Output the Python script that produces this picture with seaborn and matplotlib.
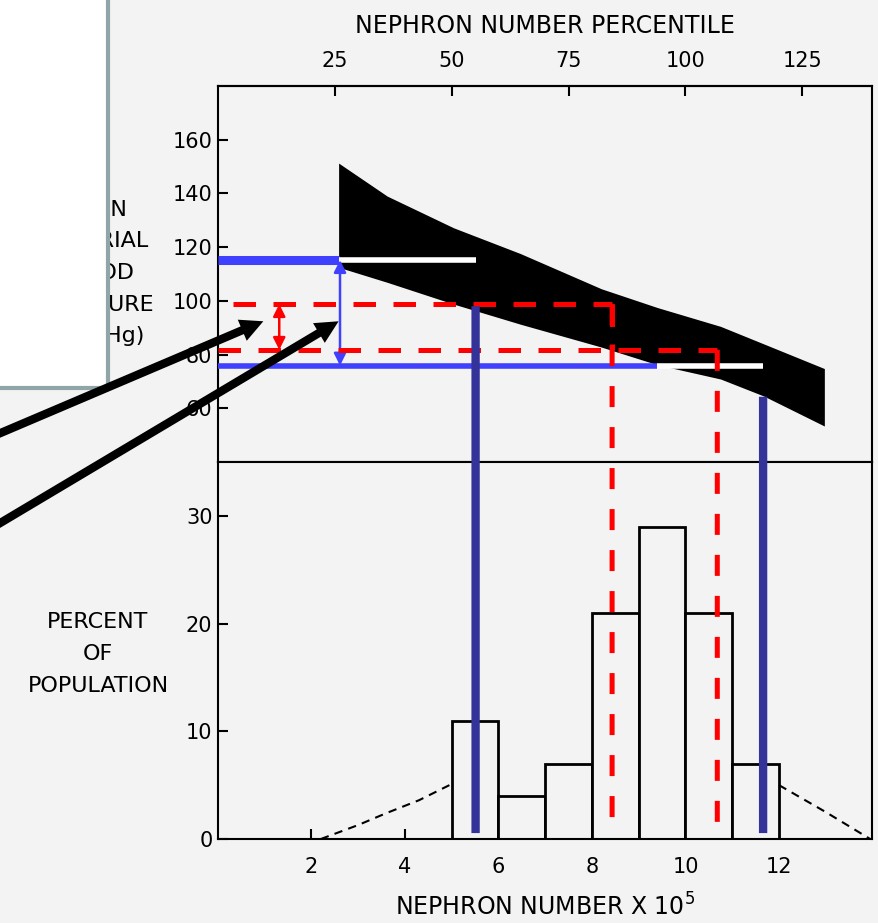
import matplotlib
matplotlib.use("Agg")
import matplotlib.pyplot as plt
import seaborn as sns
from matplotlib.patches import Rectangle, ConnectionPatch

# ---- data -------------------------------------------------------------
# Distribution of nephron number (x 10^5) in the population
bin_edges = [5, 6, 7, 8, 9, 10, 11, 12]
percent_population = [11, 4, 7, 21, 29, 21, 7]

# dashed extrapolated tails of the distribution
left_tail_x = [2.2, 3.0, 3.6, 4.3, 4.95]
left_tail_y = [0.0, 1.3, 2.4, 3.6, 5.0]
right_tail_x = [12.0, 13.0, 13.95]
right_tail_y = [5.0, 2.5, 0.0]

# mean arterial blood pressure band vs nephron number
band_x = [2.58, 3.62, 5.04, 6.47, 8.2, 9.4, 10.75, 11.67, 12.97]
band_upper = [151.3, 139.0, 127.2, 117.6, 104.5, 97.5, 90.5, 84.0, 74.8]
band_lower = [112.5, 106.9, 98.8, 91.3, 82.8, 76.2, 70.9, 64.6, 53.4]

# tick values
percentile_ticks = [25, 50, 75, 100, 125]
bp_ticks = [60, 80, 100, 120, 140, 160]
pct_ticks = [0, 10, 20, 30]
nephron_ticks = [2, 4, 6, 8, 10, 12]

# highlighted ranges: wide (blue) and narrow (red)
blue_bp = [115.2, 75.9]
blue_bp_enter = [2.58, 9.4]          # where each level meets the band
blue_nephron = [5.51, 11.66]
blue_nephron_top = [98.0, 64.3]
red_bp = [98.8, 81.75]
red_bp_start = [0.33, 0.0]
red_nephron = [8.43, 10.68]

# ---- style ------------------------------------------------------------
BG = "#f3f3f3"
BRIGHT_BLUE = "#4040ff"
NAVY = "#333399"
RED = "#ff0000"

sns.set_theme(style="ticks")
plt.rcParams["font.family"] = ["DejaVu Sans"]
plt.rcParams["text.color"] = "black"
plt.rcParams["axes.labelcolor"] = "black"
plt.rcParams["xtick.color"] = "black"
plt.rcParams["ytick.color"] = "black"
plt.rcParams["axes.linewidth"] = 1.5
plt.rcParams["xtick.major.width"] = 1.5
plt.rcParams["ytick.major.width"] = 1.5
plt.rcParams["xtick.major.size"] = 7
plt.rcParams["ytick.major.size"] = 7
plt.rcParams["xtick.direction"] = "in"
plt.rcParams["ytick.direction"] = "in"
plt.rcParams["axes.edgecolor"] = "black"

FS = 15      # tick labels
LFS = 17     # axis titles along x
SFS = 16     # stacked titles on the left
W, H = 879, 923
fig = plt.figure(figsize=(W / 100, H / 100), dpi=100, facecolor=BG)

x0, x1 = 218, 872.5
y_top, y_mid, y_bot = 86, 462, 839
ax_top = fig.add_axes([x0 / W, 1 - y_mid / H, (x1 - x0) / W, (y_mid - y_top) / H])
ax_bot = fig.add_axes([x0 / W, 1 - y_bot / H, (x1 - x0) / W, (y_bot - y_mid) / H])
for ax in (ax_top, ax_bot):
    ax.set_facecolor(BG)
    ax.set_xlim(0, 14)
    for s in ax.spines.values():
        s.set_visible(True)
        s.set_color("black")
        s.set_linewidth(1.5)

# ---- upper panel: pressure band ---------------------------------------
ax_top.set_ylim(40, 180)
ax_top.fill_between(band_x, band_lower, band_upper, color="black", lw=0, zorder=2)
ax_top.set_yticks(bp_ticks)
ax_top.set_yticklabels([str(v) for v in bp_ticks], fontsize=FS)
ax_top.tick_params(axis="y", pad=4, left=True)
ax_top.tick_params(axis="x", bottom=False, labelbottom=False)

sec = ax_top.secondary_xaxis("top", functions=(lambda x: x * 10, lambda p: p / 10))
sec.set_xticks(percentile_ticks)
sec.set_xticklabels([str(v) for v in percentile_ticks], fontsize=FS)
sec.tick_params(axis="x", direction="in", length=7, width=1.5, pad=11)
sec.spines["top"].set_linewidth(1.5)
sec.set_xlabel("NEPHRON NUMBER PERCENTILE", fontsize=LFS, labelpad=13)

# ---- lower panel: histogram -------------------------------------------
ax_bot.set_ylim(0, 35)
bin_centers = [(a + b) / 2 for a, b in zip(bin_edges[:-1], bin_edges[1:])]
sns.histplot(x=bin_centers, weights=percent_population, bins=bin_edges,
             ax=ax_bot, fill=True, color=BG, edgecolor="black", linewidth=2,
             alpha=1, zorder=2)
sns.lineplot(x=left_tail_x, y=left_tail_y, ax=ax_bot, color="black",
             lw=1.5, linestyle=(0, (4, 3)), zorder=2)
sns.lineplot(x=right_tail_x, y=right_tail_y, ax=ax_bot, color="black",
             lw=1.5, linestyle=(0, (4, 3)), zorder=2)
ax_bot.set_yticks(pct_ticks)
ax_bot.set_yticklabels([str(v) for v in pct_ticks], fontsize=FS)
ax_bot.set_xticks(nephron_ticks)
ax_bot.set_xticklabels([str(v) for v in nephron_ticks], fontsize=FS)
ax_bot.tick_params(axis="x", pad=13, bottom=True)
ax_bot.tick_params(axis="y", pad=4, left=True)
ax_bot.set_ylabel("")
ax_bot.set_xlabel("NEPHRON NUMBER X 10$^5$", fontsize=LFS, labelpad=12)

# ---- axis titles on the left ------------------------------------------
fig.text(154 / W, 1 - 273 / H, "MEAN\nARTERIAL\nBLOOD\nPRESSURE\n(mm Hg)",
         ha="right", va="center", multialignment="center", fontsize=SFS,
         linespacing=1.72, zorder=1)
fig.text(98 / W, 1 - 654 / H, "PERCENT\nOF\nPOPULATION", ha="center",
         va="center", multialignment="center", fontsize=SFS, linespacing=1.72)

# ---- highlighted pressure ranges --------------------------------------
# wide range (blue)
ax_top.plot([0, blue_bp_enter[0]], [blue_bp[0]] * 2, color=BRIGHT_BLUE, lw=6.5,
            solid_capstyle="butt", zorder=4)
ax_top.plot([blue_bp_enter[0], blue_nephron[0]], [blue_bp[0]] * 2, color="white",
            lw=4, solid_capstyle="butt", zorder=4)
ax_top.plot([0, blue_bp_enter[1]], [blue_bp[1]] * 2, color=BRIGHT_BLUE, lw=4,
            solid_capstyle="butt", zorder=4)
ax_top.plot([blue_bp_enter[1], blue_nephron[1]], [blue_bp[1]] * 2, color="white",
            lw=4, solid_capstyle="butt", zorder=4)
ax_top.annotate("", xy=(2.61, blue_bp[0]), xytext=(2.61, blue_bp[1]),
                arrowprops=dict(arrowstyle="<|-|>", color=BRIGHT_BLUE, lw=1.8,
                                mutation_scale=18, shrinkA=0, shrinkB=0),
                zorder=5)

# narrow range (red, dashed)
red_dash = (0, (4.5, 3.5))
ax_top.plot([red_bp_start[0], red_nephron[0]], [red_bp[0]] * 2, color=RED, lw=3.6,
            linestyle=red_dash, dash_capstyle="butt", zorder=5)
ax_top.plot([red_nephron[0], red_nephron[0]], [red_bp[0], red_bp[1]], color=RED,
            lw=3.6, linestyle=red_dash, dash_capstyle="butt", zorder=5)
ax_top.plot([red_bp_start[1], red_nephron[1]], [red_bp[1]] * 2, color=RED, lw=3.6,
            linestyle=red_dash, dash_capstyle="butt", zorder=5)
ax_top.annotate("", xy=(1.31, red_bp[0]), xytext=(1.31, red_bp[1]),
                arrowprops=dict(arrowstyle="<|-|>", color=RED, lw=1.8,
                                mutation_scale=18, shrinkA=0, shrinkB=0),
                zorder=6)

# verticals running from the band down into the histogram
for xv, ytop in zip(blue_nephron, blue_nephron_top):
    fig.add_artist(ConnectionPatch(xyA=(xv, ytop), coordsA=ax_top.transData,
                                   xyB=(xv, 0.55), coordsB=ax_bot.transData,
                                   color=NAVY, lw=6, capstyle="butt", zorder=5))
for xv, ytop in zip(red_nephron, red_bp):
    fig.add_artist(ConnectionPatch(xyA=(xv, ytop), coordsA=ax_top.transData,
                                   xyB=(xv, 0.55), coordsB=ax_bot.transData,
                                   color=RED, lw=3.6, linestyle=(0, (4.2, 4.0)),
                                   capstyle="butt", zorder=6))

# ---- callout box and pointers -----------------------------------------
fig.add_artist(Rectangle((-10 / W, 1 - 388 / H), 118 / W, 400 / H,
                         transform=fig.transFigure, facecolor="white",
                         edgecolor="#8fa5a8", lw=3, zorder=10))
arrow_style = "simple,head_length=0.55,head_width=0.55,tail_width=0.2"
for tail, head in [((-30 / W, (H - 446) / H), (0.97, 92.4)),
                   ((-30 / W, (H - 541) / H), (2.58, 92.4))]:
    fig.add_artist(ConnectionPatch(xyA=tail, coordsA=fig.transFigure,
                                   xyB=head, coordsB=ax_top.transData,
                                   arrowstyle=arrow_style, mutation_scale=30,
                                   facecolor="black", edgecolor="none", lw=0,
                                   zorder=11))

fig.savefig("out.png", dpi=100, facecolor=BG)
